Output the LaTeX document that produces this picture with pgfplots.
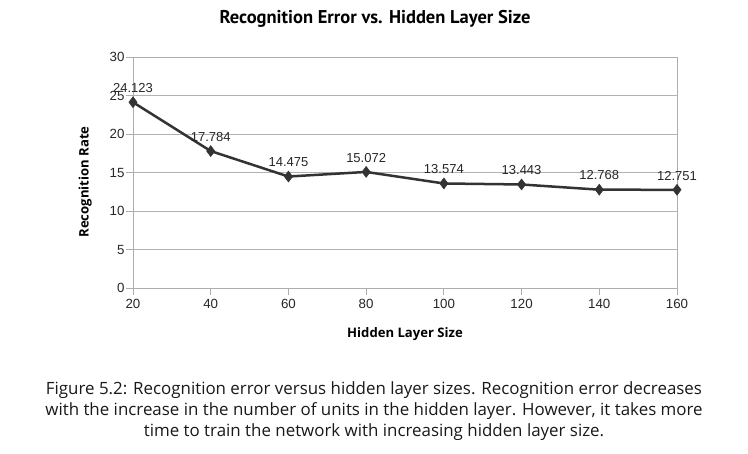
\documentclass[border=0pt]{standalone}
\usepackage{pgfplots}
\pgfplotsset{compat=1.18}
\usepackage{fontspec}
\setmainfont{Liberation Sans}
\newfontfamily\capfont{Open Sans}
\newfontfamily\titlefont{PT Sans}
\begin{document}
\begin{tikzpicture}[x=1pt,y=1pt]
\path[use as bounding box] (0,0) rectangle (748,454);
\begin{axis}[
  at={(133pt,166pt)}, anchor=south west,
  scale only axis, width=544pt, height=231pt,
  xmin=20, xmax=160, ymin=0, ymax=30,
  xtick={20,40,...,160}, ytick={0,5,...,30},
  xtick pos=lower, ytick pos=left,
  ymajorgrids,
  major grid style={color=black!30, line width=0.8pt},
  axis line style={black!32, line width=0.8pt},
  tick style={black!32, line width=0.8pt},
  tick align=outside, major tick length=7pt,
  ticklabel style={font=\fontsize{13.3}{15}\selectfont, text=black!85},
  yticklabel style={xshift=2pt},
  xticklabel style={yshift=-1pt},
  /pgf/number format/assume math mode=true,
  clip=false,
  title={\titlefont\bfseries\fontsize{18.5}{21}\selectfont Recognition Error vs. Hidden Layer Size},
  title style={at={(axis description cs:0.445,1.139)}, anchor=center},
  xlabel={\capfont\bfseries\fontsize{13.1}{15}\selectfont Hidden Layer Size},
  xlabel style={at={(axis description cs:0.5,-0.199)}, anchor=center},
  ylabel={\capfont\bfseries\fontsize{13.1}{15}\selectfont Recognition Rate},
  ylabel style={at={(axis description cs:-0.088,0.459)}, anchor=center, rotate=0},
  nodes near coords,
  nodes near coords style={font=\fontsize{13}{15}\selectfont, text=black!85, anchor=south, yshift=6pt},
  point meta=explicit symbolic,
]
\addplot[color=black!80, line width=2.5pt, mark=diamond*, mark size=5.5pt, mark options={solid, line width=0.5pt}] table[meta=label] {
x y label
20 24.123 24.123
40 17.784 17.784
60 14.475 14.475
80 15.072 15.072
100 13.574 13.574
120 13.443 13.443
140 12.768 12.768
160 12.751 12.751
};
\end{axis}
\node[align=center, font=\capfont\fontsize{16.9}{21}\selectfont, text=black!90] at (374,43) {Figure 5.2: Recognition error versus hidden layer sizes. Recognition error decreases\\with the increase in the number of units in the hidden layer. However, it takes more\\time to train the network with increasing hidden layer size.};
\end{tikzpicture}
\end{document}
